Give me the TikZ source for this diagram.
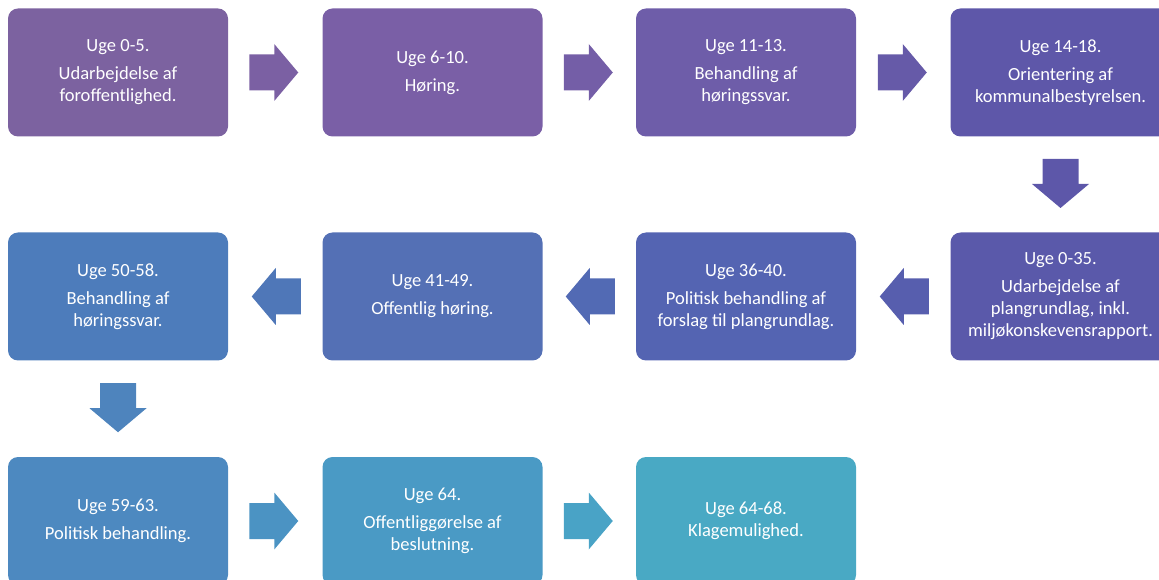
\documentclass[tikz,border=0pt]{standalone}
\usepackage{fontspec}
\setmainfont{Carlito}
\usetikzlibrary{calc}
\definecolor{cA}{HTML}{7C62A0}
\definecolor{cB}{HTML}{7A5FA6}
\definecolor{cC}{HTML}{6E5DA9}
\definecolor{cD}{HTML}{5E57A9}
\definecolor{cE}{HTML}{5A59AA}
\definecolor{cF}{HTML}{5464B2}
\definecolor{cG}{HTML}{5470B5}
\definecolor{cH}{HTML}{4D7CBB}
\definecolor{cI}{HTML}{4D89C0}
\definecolor{cJ}{HTML}{4A9AC5}
\definecolor{cK}{HTML}{49A9C4}
\definecolor{aA}{HTML}{7B60A3}
\definecolor{aB}{HTML}{745EA7}
\definecolor{aC}{HTML}{665AA8}
\definecolor{aD}{HTML}{5D57A9}
\definecolor{aE}{HTML}{575EAE}
\definecolor{aF}{HTML}{526AB4}
\definecolor{aG}{HTML}{4F77B8}
\definecolor{aH}{HTML}{4E84BD}
\definecolor{aI}{HTML}{4B93C3}
\definecolor{aJ}{HTML}{49A3C6}
\tikzset{
  stagebox/.style={rounded corners=7.5pt, minimum width=165pt, minimum height=96pt,
    inner sep=0pt, align=center, text=white,
    font=\fontsize{13.9pt}{16.5pt}\selectfont},
  blockarrow/.pic={\path[pic actions] (-24.5,-18) -- (0.5,-18) -- (0.5,-28.5) -- (24.5,0)
     -- (0.5,28.5) -- (0.5,18) -- (-24.5,18) -- cycle;}
}
\begin{document}
\begin{tikzpicture}[x=0.75pt,y=-0.75pt]
\useasboundingbox (0,0) rectangle (1159,580);
\clip (0,0) rectangle (1159,580);
% row 1
\node[stagebox, fill=cA] (b1) at (118,72.5) {Uge 0-5.\\[4.5pt]Udarbejdelse af\\foroffentlighed.};
\node[stagebox, fill=cB] (b2) at (432.5,72.5) {Uge 6-10.\\[4.5pt]Høring.};
\node[stagebox, fill=cC] (b3) at (746,72.5) {Uge 11-13.\\[4.5pt]Behandling af\\høringssvar.};
\node[stagebox, fill=cD] (b4) at (1060.5,72.5) {Uge 14-18.\\[4.5pt]Orientering af\\kommunalbestyrelsen.};
% row 2
\node[stagebox, fill=cE] (b5) at (1060.5,296.5) {Uge 0-35.\\[4.5pt]Udarbejdelse af\\plangrundlag, inkl.\\miljøkonskevensrapport.};
\node[stagebox, fill=cF] (b6) at (746,296.5) {Uge 36-40.\\[4.5pt]Politisk behandling af\\forslag til plangrundlag.};
\node[stagebox, fill=cG] (b7) at (432.5,296.5) {Uge 41-49.\\[4.5pt]Offentlig høring.};
\node[stagebox, fill=cH] (b8) at (118,296.5) {Uge 50-58.\\[4.5pt]Behandling af\\høringssvar.};
% row 3
\node[stagebox, fill=cI] (b9) at (118,521) {Uge 59-63.\\[4.5pt]Politisk behandling.};
\node[stagebox, fill=cJ] (b10) at (432.5,521) {Uge 64.\\[4.5pt]Offentliggørelse af\\beslutning.};
\node[stagebox, fill=cK] (b11) at (746,521) {Uge 64-68.\\Klagemulighed.};
% arrows
\pic[fill=aA] at ($(b1.east)!0.5!(b2.west)+(-1.5,0)$) {blockarrow};
\pic[fill=aB] at ($(b2.east)!0.5!(b3.west)+(-1,0)$) {blockarrow};
\pic[fill=aC] at ($(b3.east)!0.5!(b4.west)+(-1,0)$) {blockarrow};
\pic[fill=aD, rotate=-90] at ($(b4.south)!0.5!(b5.north)+(0,-1)$) {blockarrow};
\pic[fill=aE, rotate=180] at ($(b5.west)!0.5!(b6.east)+(1,0)$) {blockarrow};
\pic[fill=aF, rotate=180] at ($(b6.west)!0.5!(b7.east)+(1,0)$) {blockarrow};
\pic[fill=aG, rotate=180] at ($(b7.west)!0.5!(b8.east)+(1,0)$) {blockarrow};
\pic[fill=aH, rotate=-90] at ($(b8.south)!0.5!(b9.north)+(0,-1)$) {blockarrow};
\pic[fill=aI] at ($(b9.east)!0.5!(b10.west)+(-1.5,0)$) {blockarrow};
\pic[fill=aJ] at ($(b10.east)!0.5!(b11.west)+(-1,0)$) {blockarrow};
\end{tikzpicture}
\end{document}
